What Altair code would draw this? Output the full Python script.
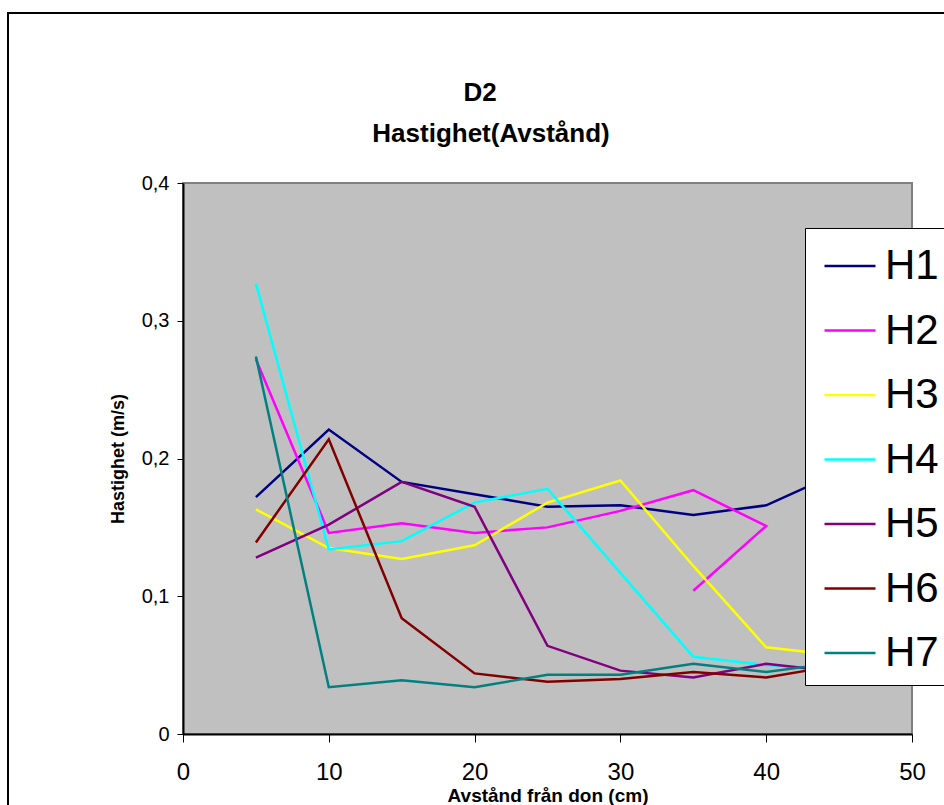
import altair as alt
import pandas as pd

# Distance from the nozzle (cm) for each measured point
x_cm = [5, 10, 15, 20, 25, 30, 35, 40, 45]
# H2 was measured once more at 35 cm after the 40 cm point
x_h2 = [5, 10, 15, 20, 25, 30, 35, 40, 35]

# Velocity (m/s) per height H1..H7
h1 = [0.172, 0.221, 0.183, 0.174, 0.165, 0.166, 0.159, 0.166, 0.190]
h2 = [0.272, 0.146, 0.153, 0.146, 0.150, 0.162, 0.177, 0.151, 0.104]
h3 = [0.163, 0.135, 0.127, 0.137, 0.168, 0.184, 0.122, 0.063, 0.057]
h4 = [0.327, 0.134, 0.140, 0.168, 0.178, 0.117, 0.056, 0.050, 0.047]
h5 = [0.128, 0.152, 0.183, 0.165, 0.064, 0.046, 0.041, 0.051, 0.045]
h6 = [0.139, 0.214, 0.084, 0.044, 0.038, 0.040, 0.045, 0.041, 0.050]
h7 = [0.274, 0.034, 0.039, 0.034, 0.043, 0.043, 0.051, 0.045, 0.052]

series_names = ["H1", "H2", "H3", "H4", "H5", "H6", "H7"]
series_colors = ["#000080", "#FF00FF", "#FFFF00", "#00FFFF", "#800080", "#800000", "#008080"]

title_lines = ["D2", "Hastighet(Avstånd)"]

series = {
    "H1": (x_cm, h1),
    "H2": (x_h2, h2),
    "H3": (x_cm, h3),
    "H4": (x_cm, h4),
    "H5": (x_cm, h5),
    "H6": (x_cm, h6),
    "H7": (x_cm, h7),
}

rows = []
for name in series_names:
    xs, vs = series[name]
    for i, (x, v) in enumerate(zip(xs, vs)):
        rows.append({"serie": name, "avstand": x, "hastighet": v, "ordning": i})
df = pd.DataFrame(rows)

FONT = "Liberation Sans"
one_row = pd.DataFrame({"k": [0]})

lines = alt.Chart(df).mark_line(strokeWidth=2.5, clip=True).encode(
    x=alt.X(
        "avstand:Q",
        scale=alt.Scale(domain=[0, 50], nice=False),
        axis=alt.Axis(
            title="Avstånd från don (cm)",
            values=[0, 10, 20, 30, 40, 50],
            tickSize=8,
            labelPadding=18,
            labelFlush=False,
            labelFontSize=24,
            titleFontSize=19,
            titleY=61,
            titleBaseline="middle",
        ),
    ),
    y=alt.Y(
        "hastighet:Q",
        scale=alt.Scale(domain=[0, 0.4], nice=False),
        axis=alt.Axis(
            title="Hastighet (m/s)",
            values=[0, 0.1, 0.2, 0.3, 0.4],
            format=".1~f",
            labelExpr="replace(datum.label, '.', ',')",
            tickSize=6,
            labelPadding=8,
            labelFlush=False,
            labelFontSize=20,
            titleFontSize=18,
            titleX=-65,
            titleBaseline="middle",
        ),
    ),
    color=alt.Color(
        "serie:N",
        scale=alt.Scale(domain=series_names, range=series_colors),
        legend=alt.Legend(
            title=None,
            orient="none",
            legendX=622,
            legendY=45,
            symbolType="stroke",
            symbolSize=2601,
            symbolStrokeWidth=2.5,
            symbolOffset=7,
            labelFontSize=42,
            labelFont=FONT,
            labelColor="black",
            labelOffset=8,
            labelExpr="datum.label + '\u2003\u2003'",
            fillColor="white",
            strokeColor="black",
            padding=11,
            rowPadding=16.5,
        ),
    ),
    order="ordning:Q",
)

# Frame around the whole chart area
frame = alt.Chart(one_row).mark_rect(
    fill=None, stroke="black", strokeWidth=2, clip=False
).encode(
    x=alt.value(-175), x2=alt.value(790),
    y=alt.value(-170), y2=alt.value(650),
)

# Two-line chart heading above the plot
heading_1 = alt.Chart(one_row).mark_text(
    text=title_lines[0], font=FONT, fontSize=26, fontWeight="bold",
    align="center", baseline="alphabetic", color="black",
).encode(x=alt.value(297), y=alt.value(-82))

heading_2 = alt.Chart(one_row).mark_text(
    text=title_lines[1], font=FONT, fontSize=26, fontWeight="bold",
    align="center", baseline="alphabetic", color="black",
).encode(x=alt.value(308), y=alt.value(-41))

chart = alt.layer(frame, heading_1, heading_2, lines).properties(
    width=729,
    height=551,
    autosize=alt.AutoSizeParams(type="none"),
    padding={"left": 183, "top": 183, "right": 32, "bottom": 71},
    background="white",
).configure_view(
    fill="#C0C0C0", stroke="#808080", strokeWidth=2
).configure_axis(
    grid=False,
    domainColor="black",
    domainWidth=2,
    tickColor="black",
    tickWidth=1,
    labelColor="black",
    labelFont=FONT,
    titleFont=FONT,
    titleColor="black",
    titleFontWeight="bold",
)

chart.save("out.html", embed_options={"renderer": "svg", "actions": False})
